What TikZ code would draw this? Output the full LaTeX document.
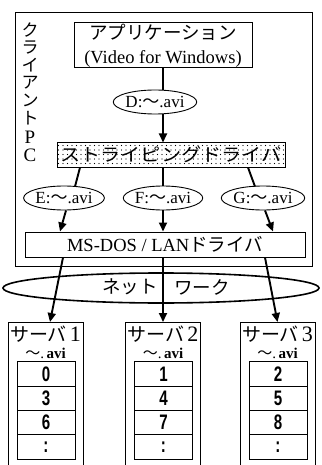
\documentclass[tikz,border=0pt]{standalone}
\usepackage{fontspec}
\usepackage{graphicx}
\setmainfont{Liberation Serif}
\newfontfamily\jp{Noto Sans CJK JP}
\newfontfamily\sansb{Liberation Sans}
\usetikzlibrary{arrows.meta,shapes.geometric,patterns}
\pgfdeclarepatternformonly{sparsedots}{\pgfqpoint{-1pt}{-1pt}}{\pgfqpoint{1pt}{1pt}}{\pgfqpoint{4.5pt}{4.5pt}}{%
  \pgfpathcircle{\pgfqpoint{0pt}{0pt}}{0.6pt}\pgfusepath{fill}}
\newcommand\wtil{{\jp ～}}
\newcommand\numc[1]{\scalebox{0.72}[1]{\sansb\bfseries\fontsize{21}{21}\selectfont #1}}
\begin{document}
\begin{tikzpicture}[x=1pt,y=-1pt,
  box/.style={draw,line width=1pt,inner sep=0pt},
  oval/.style={draw,ellipse,line width=0.9pt,inner sep=0pt,minimum height=24pt,font=\fontsize{17}{17}\selectfont},
  link/.style={line width=1.9pt},
  arr/.style={line width=1.9pt,-{Triangle[length=9pt,width=8pt]}},
  cell/.style={draw,line width=0.9pt,minimum width=58pt,minimum height=24.3pt,inner sep=0pt},
  srv/.style={draw,line width=1pt,minimum width=75pt,minimum height=160pt,anchor=north,inner sep=0pt},
  vch/.style={inner sep=0pt,font=\jp\fontsize{17}{17}\selectfont},
  vchl/.style={inner sep=0pt,font=\rmfamily\fontsize{19}{19}\selectfont},
]
\useasboundingbox (0,0) rectangle (321,465);
\clip (0,0) rectangle (321,465);
% client PC frame
\node[box,line width=1.2pt,minimum width=297pt,minimum height=254pt,anchor=north west] (pc) at (15,12) {};
\node[vch] (v1) at (30,30.5) {ク};
\node[vch] (v2) at (30,48) {ラ};
\node[vch] (v3) at (30,65.5) {イ};
\node[vch] (v4) at (30,83) {ア};
\node[vch] (v5) at (30,100.5) {ン};
\node[vch] (v6) at (30,118) {ト};
\node[vchl] (v7) at (30,137) {P};
\node[vchl] (v8) at (30,155) {C};
% application
\node[box,minimum width=178pt,minimum height=45pt,align=center,font=\fontsize{18.5}{24}\selectfont] (app) at (163,45.5) {{\jp アプリケーション}\\(Video for Windows)};
\node[oval,minimum width=58pt] (D) at (155,102) {D:\wtil.avi};
% striping driver
\node[box,minimum width=228pt,minimum height=24pt,pattern=sparsedots] (stripe) at (171,155) {};
\node[font=\jp\fontsize{18}{18}\selectfont,inner sep=0pt] (stripetxt) at (stripe) {\scalebox{1.12}[1]{ストライピングドライバ}};
% E F G
\node[oval,minimum width=78pt] (E) at (64,198) {E:\wtil.avi};
\node[oval,minimum width=75pt] (F) at (163,198) {F:\wtil.avi};
\node[oval,minimum width=83pt] (G) at (263,198) {G:\wtil.avi};
% LAN driver
\node[box,minimum width=280pt,minimum height=25pt,font=\fontsize{18.5}{18.5}\selectfont] (lan) at (165,244.5) {MS-DOS / LAN{\jp ドライバ}};
% network
\node[draw,ellipse,line width=1.6pt,minimum width=316pt,minimum height=30pt,inner sep=0pt] (net) at (161,288) {};
\node[font=\jp\fontsize{18.5}{18.5}\selectfont,inner sep=0pt] (netL) at (130,287) {ネット};
\node[font=\jp\fontsize{18.5}{18.5}\selectfont,inner sep=0pt] (netR) at (202,287) {ワーク};
% servers
\foreach \i/\cx/\a/\b/\c in {1/45.5/0/3/6, 2/163/1/4/7, 3/277.5/2/5/8}{
  \node[srv] (s\i) at (\cx,322) {};
  \node[font=\fontsize{19}{19}\selectfont,inner sep=0pt] (t\i) at (\cx,334) {{\jp サーバ}\,{\fontsize{22}{22}\selectfont\i}};
  \node[font=\fontsize{15}{15}\selectfont,inner sep=0pt] (f\i) at (\cx,353) {\wtil.\,\textbf{avi}};
  \node[cell] (c\i a) at (\cx+0.5,374) {\numc{\a}};
  \node[cell] (c\i b) at (\cx+0.5,398.3) {\numc{\b}};
  \node[cell] (c\i c) at (\cx+0.5,422.6) {\numc{\c}};
  \node[cell] (c\i d) at (\cx+0.5,446.9) {\numc{:}};
}
% connectors
\draw[link] (app.south) -- (D.north -| app.south);
\draw[arr] (D.south -| app.south) -- (stripe.north -| app.south);
\draw[link] (stripe.south -| 80,0) -- ([xshift=11pt,yshift=-1pt]E.north);
\draw[arr] ([xshift=2pt]E.south) -- (lan.north -| 60,0);
\draw[link] (stripe.south -| F.north) -- (F.north);
\draw[arr] (F.south) -- (lan.north -| F.south);
\draw[link] (stripe.south -| 248,0) -- ([xshift=-8pt,yshift=-1pt]G.north);
\draw[arr] ([xshift=2pt]G.south) -- (lan.north -| 273,0);
\draw[arr] (lan.south -| 63,0) -- ([xshift=4.5pt]s1.north);
\draw[arr] (lan.south -| s2.north) -- (s2.north);
\draw[arr] (lan.south -| 265,0) -- (s3.north);
\end{tikzpicture}
\end{document}
